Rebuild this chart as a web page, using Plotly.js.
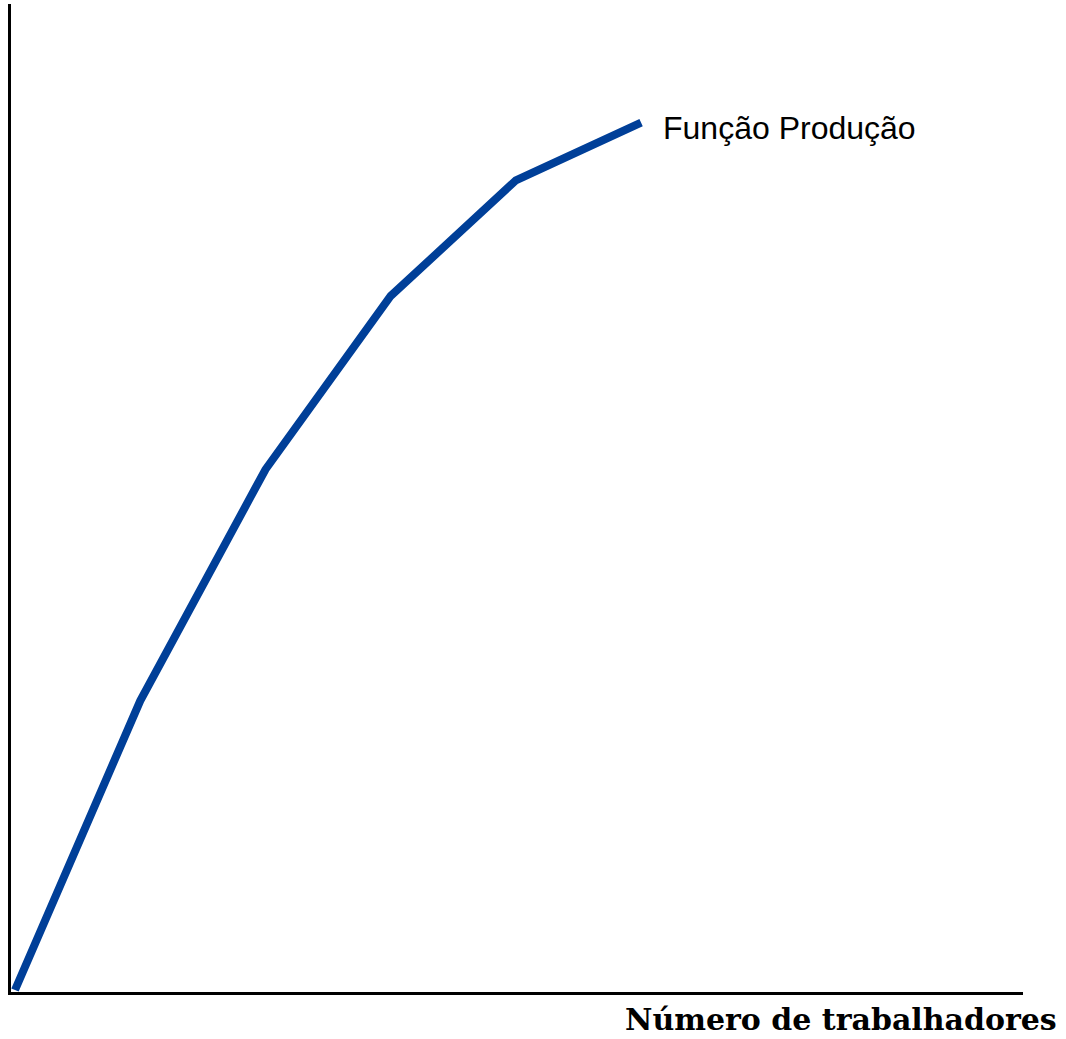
<!DOCTYPE html>
<html>
<head>
<meta charset="utf-8">
<script src="https://cdn.plot.ly/plotly-3.0.1.min.js"></script>
<style>html,body{margin:0;padding:0;background:#fff}#chart{width:1066px;height:1039px}</style>
</head>
<body>
<div id="chart"></div>
<script>
const workers = [0, 1, 2, 3, 4, 5];
const output = [0, 10, 18, 24, 28, 30];
const seriesLabel = "Função Produção";
const xAxisTitle = "Número de trabalhadores";

const trace = {
  x: workers,
  y: output,
  type: "scatter",
  mode: "lines",
  line: {color: "#003f98", width: 8},
  hoverinfo: "skip",
  showlegend: false
};

const layout = {
  width: 1066,
  height: 1039,
  margin: {l: 11, r: 43, t: 4, b: 47, pad: 0},
  paper_bgcolor: "#ffffff",
  plot_bgcolor: "#ffffff",
  showlegend: false,
  xaxis: {
    range: [-0.032, 8.05],
    showgrid: false, zeroline: false, showticklabels: false, ticks: "",
    showline: true, linecolor: "#000", linewidth: 3
  },
  yaxis: {
    range: [-0.07, 34.1],
    showgrid: false, zeroline: false, showticklabels: false, ticks: "",
    showline: true, linecolor: "#000", linewidth: 3
  },
  annotations: [
    {
      x: workers[workers.length - 1], y: output[output.length - 1],
      xref: "x", yref: "y", xanchor: "left", yanchor: "middle",
      xshift: 21, yshift: -5, showarrow: false, borderpad: 0,
      text: seriesLabel,
      font: {family: "Liberation Sans, Arial, sans-serif", size: 32, color: "#000"}
    },
    {
      x: 1, y: 0, xref: "paper", yref: "paper",
      xanchor: "right", yanchor: "middle", xshift: 35, yshift: -27,
      showarrow: false, borderpad: 0,
      text: "<b>" + xAxisTitle + "</b>",
      font: {family: "DejaVu Serif, serif", size: 30, color: "#000"}
    }
  ]
};

Plotly.newPlot("chart", [trace], layout, {displayModeBar: false, staticPlot: true});
</script>
</body>
</html>
